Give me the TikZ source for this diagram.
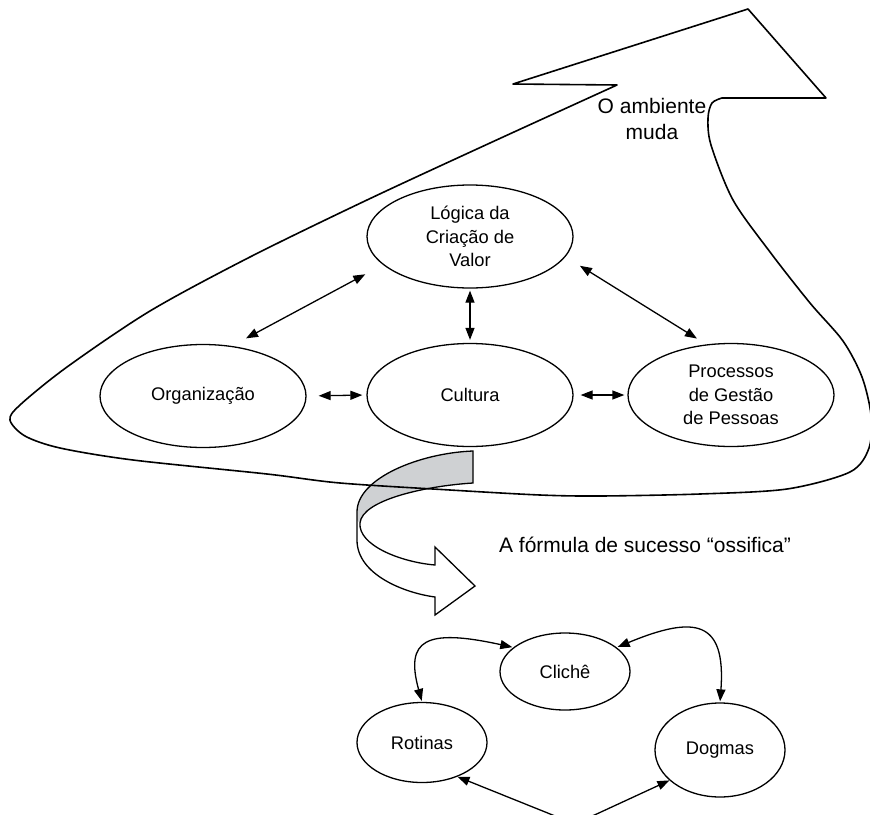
\documentclass[tikz,border=0pt]{standalone}
\usepackage{fontspec}
\setmainfont{Liberation Sans}
\usetikzlibrary{shapes.geometric,arrows.meta}

\definecolor{ribbongray}{HTML}{CFD1D3}

\tikzset{
  ell/.style={ellipse, draw, line width=1.3pt, inner sep=0pt, align=center,
    font=\fontsize{18.3}{23.5}\selectfont},
  bigell/.style={ell, minimum width=206pt, minimum height=103pt},
  smallell/.style={ell, minimum width=130pt},
  tipx/.tip={Triangle[length=12pt,width=9pt]},
  dbl/.style={tipx-tipx, line width=1.3pt},
  outline/.style={line width=1.6pt, line join=round},
  caption/.style={align=center, font=\fontsize{21}{26}\selectfont},
}

\begin{document}
\begin{tikzpicture}[x=1pt, y=-1pt]
\useasboundingbox (0,0) rectangle (870,814);
\clip (0,0) rectangle (870,814);

% twisted ribbon arrow
\fill[white]
  (473,451) .. controls (420,453) and (357,478) .. (357,512) -- (357,540)
  .. controls (357,575) and (405,593) .. (435,597)
  -- (435,615) -- (475,586) -- (435,547) -- (435,565)
  .. controls (400,562) and (358,545) .. (360,523)
  .. controls (362,500) and (425,486) .. (473,483) -- cycle;
\fill[ribbongray]
  (473,451) .. controls (420,453) and (357,478) .. (357,512) -- (357,520)
  -- (360,523) .. controls (362,500) and (425,486) .. (473,483) -- cycle;
\draw[line width=1.3pt, line join=miter]
  (473,451) .. controls (420,453) and (357,478) .. (357,512) -- (357,540)
  .. controls (357,575) and (405,593) .. (435,597)
  -- (435,615) -- (475,586) -- (435,547) -- (435,565)
  .. controls (400,562) and (358,545) .. (360,523)
  .. controls (362,500) and (425,486) .. (473,483) -- cycle;

% main ellipses
\node[bigell] (lv)  at (470,236.5) {Lógica da\\Criação de\\Valor};
\node[bigell] (org) at (203,396)   {Organização};
\node[bigell] (cu)  at (470,395)   {Cultura};
\node[bigell] (pr)  at (731,395)   {Processos\\de Gestão\\de Pessoas};

\draw[dbl, shorten <=20pt, shorten >=16pt] (lv.198) -- (org.60);
\draw[dbl, shorten <=2pt, shorten >=3pt] (lv.south) -- (cu.north);
\draw[dbl, shorten <=17pt, shorten >=11pt] (lv.-12) -- (pr.116);
\draw[dbl, shorten <=12pt, shorten >=4pt] (org.east) -- (cu.west);
\draw[dbl, shorten <=7pt, shorten >=3pt] (cu.east) -- (pr.west);

% cycle of ossified elements
\node[smallell, minimum height=77pt] (cl) at (565,671.5) {Clichê};
\node[smallell, minimum height=80pt] (ro) at (422,742.5) {Rotinas};
\node[smallell, minimum height=94pt] (dg) at (720,750)   {Dogmas};

\draw[dbl, shorten <=1pt, shorten >=1pt]
  (ro.north) .. controls (405,640) and (425,628) .. (cl.155);
\draw[dbl, shorten <=1pt, shorten >=1pt]
  (dg.north) .. controls (726,620) and (695,615) .. (cl.25);
\draw[dbl, rounded corners=22pt]
  (ro.-44) -- (575,824) -- (dg.211);

% captions
\node[caption] (amb) at (652,119) {O ambiente\\muda};
\node[caption] (form) at (645,545) {A fórmula de sucesso “ossifica”};

% large arrow around the organisation
\draw[outline]
  (748,9) -- (826,98)
  -- plot[smooth, tension=0.5] coordinates {
    (722,98) (712,103) (708,118) (711,145) (733,200) (770,252) (810,303)
    (843,341) (862,377) (871,415) (869,448) (850,472) (787,489) (700,494)
    (600,496) (540,495) (450,490) (340,483) (267,474) (133,460) (60,448)
    (25,436) (10,420) (20,405) (67,367) (150,311) (250,257) (367,200)
    (490,143) (617,85)}
  -- (513,84) -- cycle;
\end{tikzpicture}
\end{document}
